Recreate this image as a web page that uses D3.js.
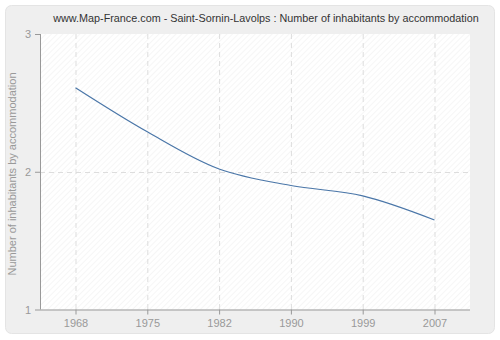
<!DOCTYPE html>
<html><head><meta charset="utf-8">
<script src="https://cdn.jsdelivr.net/npm/d3@7"></script>
<style>html,body{margin:0;padding:0;background:#fff;}svg{display:block;}</style>
</head><body>
<svg id="c" width="500" height="340"></svg>
<script>
const years = ["1968","1975","1982","1990","1999","2007"];
const values = [2.61, 2.29, 2.02, 1.90, 1.825, 1.65];
const yTicks = [1, 2, 3];
const title = "www.Map-France.com - Saint-Sornin-Lavolps : Number of inhabitants by accommodation";
const yLabel = "Number of inhabitants by accommodation";

const svg = d3.select("#c");
const font = "'Liberation Sans', Arial, sans-serif";
const m = {l: 40, r: 470, t: 34, b: 309.5};

const defs = svg.append("defs");
const pat = defs.append("pattern").attr("id","hatch").attr("width",4).attr("height",4)
  .attr("patternUnits","userSpaceOnUse").attr("patternTransform","rotate(45)");
pat.append("rect").attr("width",4).attr("height",4).attr("fill","#ffffff");
pat.append("line").attr("x1",0).attr("y1",0).attr("x2",0).attr("y2",4).attr("stroke","#eeeeee").attr("stroke-width",1);

// card
svg.append("rect").attr("x",5.5).attr("y",5.5).attr("width",489).attr("height",328).attr("rx",6)
  .attr("fill","#efefef").attr("stroke","#e4e4e4");

// plot area
svg.append("rect").attr("x",m.l).attr("y",m.t).attr("width",m.r-m.l).attr("height",m.b-m.t)
  .attr("fill","url(#hatch)");

const x = d3.scalePoint().domain(years).range([75.5, 434.5]);
const y = d3.scaleLinear().domain([1,3]).range([m.b, m.t]);

// grid
svg.append("g").selectAll("line").data(years).join("line")
  .attr("x1",d=>x(d)+0.5).attr("x2",d=>x(d)+0.5).attr("y1",m.t).attr("y2",m.b)
  .attr("stroke","#dddddd").attr("stroke-dasharray","5,4");
svg.append("g").selectAll("line").data(yTicks.filter(v=>v>1&&v<3)).join("line")
  .attr("x1",m.l).attr("x2",m.r).attr("y1",d=>Math.round(y(d))+0.5).attr("y2",d=>Math.round(y(d))+0.5)
  .attr("stroke","#dddddd").attr("stroke-dasharray","5,4");

// axes
const xAxis = svg.append("g").attr("transform",`translate(0,${m.b})`)
  .call(d3.axisBottom(x).tickSize(5).tickPadding(5));
const yAxis = svg.append("g").attr("transform",`translate(${m.l},0)`)
  .call(d3.axisLeft(y).tickValues(yTicks).tickFormat(d3.format("d")).tickSize(5).tickPadding(4));
[xAxis,yAxis].forEach(g=>{
  g.select(".domain").attr("stroke","#999999");
  g.selectAll(".tick line").attr("stroke","#999999");
  g.selectAll("text").attr("fill","#999999").style("font-family",font).style("font-size","11px");
});
xAxis.select(".domain").attr("d",`M${m.l},0.5H${m.r}`);
yAxis.select(".domain").attr("d",`M0.5,${m.t}V${m.b}`);

// line
const line = d3.line().x((d,i)=>x(years[i])).y(d=>y(d)).curve(d3.curveCatmullRom.alpha(0.5));
svg.append("path").datum(values).attr("d",line).attr("fill","none")
  .attr("stroke","#4a76a8").attr("stroke-width",1.2);

// title
svg.append("text").attr("x",266).attr("y",22).attr("text-anchor","middle")
  .style("font-family",font).style("font-size","10.8px").attr("fill","#333333").text(title);
svg.append("text").attr("transform","translate(16,174) rotate(-90)").attr("text-anchor","middle")
  .style("font-family",font).style("font-size","11px").attr("fill","#999999").text(yLabel);
</script>
</body></html>
